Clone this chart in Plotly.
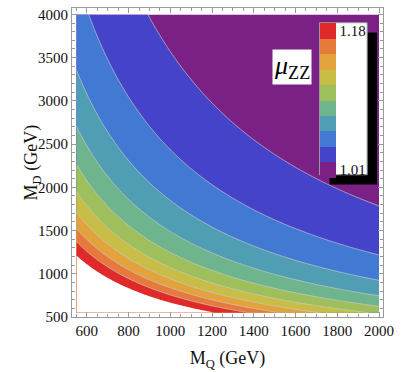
import numpy as np
import plotly.graph_objects as go

# ---- data ----
MQ_LIMITS = [550, 2000]          # GeV, plotted region of M_Q
MD_LIMITS = [550, 4000]          # GeV, plotted region of M_D
K_FIT = 1.303e5                  # mu_ZZ - 1 ~ K / (M_Q M_D), fitted from contour positions
contour_levels = [1.0365, 1.0535, 1.0705, 1.0875, 1.1045, 1.1215, 1.1385, 1.1555, 1.1725]
upper_cut = 1.1955               # beyond this the region is left blank
band_colors = ["#7B2186", "#4543C9", "#4179D3", "#4F9EB3", "#6EB48C",
               "#9FBF5C", "#C8BD46", "#E2A23C", "#E7793A", "#E02A2A"]
legend_labels = ["1.01", "1.18"]
x_ticks = [600, 800, 1000, 1200, 1400, 1600, 1800, 2000]
y_ticks = [500, 1000, 1500, 2000, 2500, 3000, 3500, 4000]

SERIF = "Liberation Serif"

# ---- grid ----
mq = np.linspace(MQ_LIMITS[0], MQ_LIMITS[1], 300)
md = np.linspace(MD_LIMITS[0], MD_LIMITS[1], 360)
MQ, MD = np.meshgrid(mq, md)
mu = 1.0 + K_FIT / (MQ * MD)

step = contour_levels[1] - contour_levels[0]
nlev = len(contour_levels)
cscale = [[k / (nlev), c] for k, c in enumerate(band_colors)]

fig = go.Figure()
fig.add_trace(go.Contour(
    x=mq, y=md, z=mu,
    contours=dict(start=contour_levels[0], end=contour_levels[-1], size=step,
                  coloring="fill", showlines=True),
    line=dict(color="rgba(205,205,205,0.9)", width=0.8, smoothing=1),
    colorscale=cscale, showscale=False, hoverinfo="skip"))
# blank region beyond the top band
fig.add_trace(go.Contour(
    x=mq, y=md, z=mu,
    contours=dict(start=upper_cut, end=upper_cut, size=1, coloring="fill", showlines=False),
    line=dict(width=0),
    colorscale=[[0, "rgba(255,255,255,0)"], [1, "white"]], showscale=False, hoverinfo="skip"))

# discrete legend bar
lo, hi = 1.01, 1.18
nb = len(band_colors)
step_cs = []
for i, c in enumerate(band_colors):
    step_cs += [[i / nb, c], [(i + 1) / nb, c]]
bw = (hi - lo) / nb
fig.add_trace(go.Scatter(
    x=[None], y=[None], mode="markers", hoverinfo="skip", showlegend=False,
    marker=dict(color=[lo, hi], cmin=lo, cmax=hi, colorscale=step_cs, showscale=True,
                colorbar=dict(x=(322 - 72) / 314, xanchor="left", y=(322 - 22) / 315, yanchor="top",
                              len=155, lenmode="pixels", thickness=16, thicknessmode="pixels",
                              xpad=0, ypad=0, outlinewidth=0, borderwidth=0,
                              bgcolor="rgba(0,0,0,0)",
                              tickvals=[lo + bw / 2, hi - bw / 2], ticktext=legend_labels,
                              ticks="", ticklen=2,
                              tickfont=dict(family=SERIF, size=15, color="#111")))))

W, H = 401, 372
L, R, T, B = 72, 386, 7, 322
def px(x):
    return (x - L) / (R - L)
def py(y):
    return (B - y) / (B - T)

shapes = [
    dict(type="rect", xref="paper", yref="paper", x0=px(332), x1=px(380), y0=py(187), y1=py(32),
         fillcolor="black", line=dict(width=0), layer="above"),
    dict(type="rect", xref="paper", yref="paper", x0=px(322), x1=px(370), y0=py(177), y1=py(22),
         fillcolor="white", line=dict(color="#999", width=1), layer="above"),
]

fig.update_layout(
    width=W, height=H, margin=dict(l=L, r=W - R, t=T, b=H - B),
    paper_bgcolor="white", plot_bgcolor="white",
    shapes=shapes,
    annotations=[
        dict(xref="paper", yref="paper", x=px(294), y=py(67), showarrow=False,
             xanchor="center", yanchor="middle",
             text="<i>μ</i><sub>ZZ</sub>", bgcolor="white", borderpad=1,
             font=dict(family=SERIF, size=26, color="black")),
        dict(xref="paper", yref="paper", x=px(32), y=py(164), showarrow=False,
             xanchor="center", yanchor="middle", textangle=-90,
             text="M<sub>D</sub> (GeV)", font=dict(family=SERIF, size=18, color="#111")),
    ],
    font=dict(family=SERIF, color="#111"),
)
axis_common = dict(showline=True, linecolor="#9a9a9a", linewidth=1, mirror="allticks",
                   ticks="inside", ticklen=5, tickcolor="#9a9a9a", showgrid=False, zeroline=False,
                   tickfont=dict(family=SERIF, size=15, color="#111"))
fig.update_xaxes(range=[529, 2019], tickvals=x_ticks,
                 minor=dict(ticks="inside", ticklen=3, tickcolor="#9a9a9a", dtick=50, showgrid=False),
                 title=dict(text="M<sub>Q</sub> (GeV)", font=dict(size=18, family=SERIF),
                            standoff=13), **axis_common)
fig.update_yaxes(range=[500, 4074], tickvals=y_ticks,
                 minor=dict(ticks="inside", ticklen=3, tickcolor="#9a9a9a", dtick=100, showgrid=False),
                 **axis_common)

fig.write_html("out.html", config={"displayModeBar": False},
               post_script="document.body.style.margin='0';document.body.style.overflow='hidden';")
